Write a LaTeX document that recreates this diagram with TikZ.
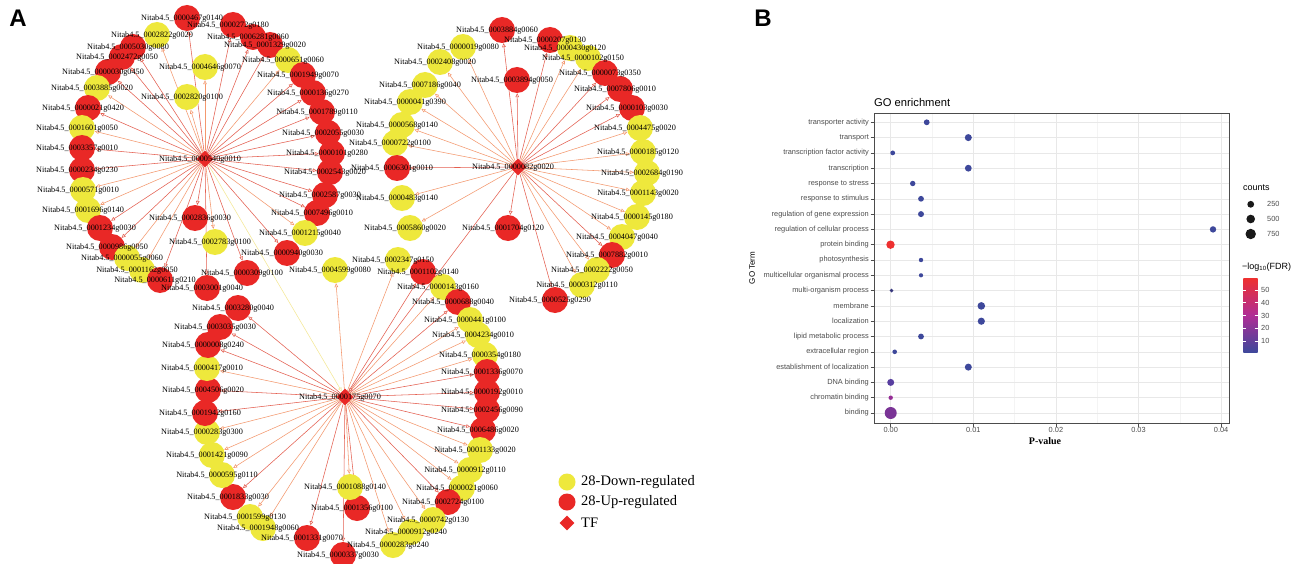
\documentclass[tikz,border=0pt]{standalone}
\usepackage{fontspec}
\setmainfont{Liberation Serif}
\setsansfont{Liberation Sans}
\usetikzlibrary{shapes.geometric,arrows.meta}
\pgfdeclarelayer{bottom}
\pgfdeclarelayer{background}
\pgfdeclarelayer{fg}
\pgfsetlayers{bottom,background,main,fg}
\definecolor{nred}{RGB}{233,40,38}
\definecolor{nyel}{RGB}{238,232,60}
\definecolor{ered}{RGB}{228,95,80}
\definecolor{eyel}{RGB}{244,152,110}
\definecolor{ehub}{RGB}{245,232,150}
\definecolor{gblue}{RGB}{62,72,155}
\definecolor{gred}{RGB}{238,48,48}
\definecolor{gnavy}{RGB}{55,55,125}
\definecolor{gdna}{RGB}{88,62,160}
\definecolor{gchrom}{RGB}{150,45,150}
\definecolor{gbind}{RGB}{122,52,150}
\definecolor{cbmid}{RGB}{175,45,150}
\definecolor{txtg}{RGB}{77,77,77}
\definecolor{gridc}{RGB}{232,232,232}
\definecolor{gridm}{RGB}{244,244,244}
\newcommand{\gn}[4]{%
  \node[#4] (g#1) at (#2,#3) {};
  \begin{pgfonlayer}{fg}\node[lbl,xshift=-5pt,yshift=-1pt] (g#1t) at (#2,#3) {Nitab4.5\_#1};\end{pgfonlayer}}
\begin{document}
\begin{tikzpicture}[x=1pt,y=-1pt,
  up/.style={circle,fill=nred,minimum size=26pt,inner sep=0pt},
  down/.style={circle,fill=nyel,minimum size=26pt,inner sep=0pt},
  tf/.style={diamond,fill=nred,minimum size=17pt,inner sep=0pt},
  lbl/.style={font=\fontsize{8.2}{9}\selectfont,inner sep=0pt},
  tip/.style={-{Triangle[open,length=4pt,width=3.6pt]}},
  eup/.style={draw=ered,line width=0.55pt,tip},
  edn/.style={draw=eyel,line width=0.55pt,tip},
  ehb/.style={draw=ehub,line width=0.55pt,tip},
  leg/.style={font=\fontsize{14.5}{16}\selectfont,inner sep=0pt,anchor=west},
  term/.style={font=\sffamily\fontsize{7.4}{8}\selectfont,text=txtg,inner sep=0pt,anchor=east},
  tick/.style={font=\sffamily\fontsize{7.4}{8}\selectfont,text=txtg,inner sep=0pt},
  plab/.style={font=\sffamily\bfseries\fontsize{24}{24}\selectfont,inner sep=0pt}
]
\useasboundingbox (0,0) rectangle (1297,564);
\begin{pgfonlayer}{bottom}\fill[white] (0,0) rectangle (1297,564);\end{pgfonlayer}

% ---------------- Panel A ----------------
\node[plab] (pA) at (18,18) {A};
\node[tf] (h1) at (205,159) {};
\node[tf] (h2) at (518,167) {};
\node[tf] (h3) at (345,397) {};
\begin{pgfonlayer}{fg}
\node[lbl,xshift=-5pt,yshift=-1pt] (h1t) at (205,159) {Nitab4.5\_0000540g0010};
\node[lbl,xshift=-5pt,yshift=-1pt] (h2t) at (518,167) {Nitab4.5\_0000082g0020};
\node[lbl,xshift=-5pt,yshift=-1pt] (h3t) at (345,397) {Nitab4.5\_0000175g0070};
\end{pgfonlayer}

% hub 1 cluster
\gn{0000467g0140}{187}{18}{up}
\gn{0000272g0180}{233}{25}{up}
\gn{0002822g0020}{157}{35}{down}
\gn{0006281g0060}{253}{37}{up}
\gn{0005030g0080}{133}{47}{up}
\gn{0001329g0020}{270}{45}{up}
\gn{0002472g0050}{122}{57}{up}
\gn{0000651g0060}{288}{60}{down}
\gn{0004646g0070}{205}{67}{down}
\gn{0000030g0450}{108}{72}{up}
\gn{0001949g0070}{303}{75}{up}
\gn{0003885g0020}{97}{88}{down}
\gn{0002820g0100}{187}{97}{down}
\gn{0000136g0270}{313}{93}{up}
\gn{0000021g0420}{88}{108}{up}
\gn{0001789g0110}{322}{112}{up}
\gn{0001601g0050}{82}{128}{down}
\gn{0002055g0030}{328}{133}{up}
\gn{0003357g0010}{82}{148}{up}
\gn{0000101g0280}{332}{153}{up}
\gn{0000234g0230}{82}{170}{up}
\gn{0002543g0020}{330}{172}{up}
\gn{0000571g0010}{83}{190}{down}
\gn{0002587g0030}{325}{195}{up}
\gn{0001696g0140}{88}{210}{down}
\gn{0007496g0010}{317}{213}{up}
\gn{0002836g0030}{195}{218}{up}
\gn{0001234g0030}{100}{228}{up}
\gn{0001215g0040}{305}{233}{down}
\gn{0002783g0100}{215}{242}{down}
\gn{0000986g0050}{112}{247}{up}
\gn{0000940g0030}{287}{253}{up}
\gn{0000055g0060}{127}{258}{down}
\gn{0001162g0050}{142}{270}{down}
\gn{0000611g0210}{160}{280}{up}
\gn{0000309g0100}{247}{273}{up}
\gn{0003001g0040}{207}{288}{up}

% hub 2 cluster
\gn{0003884g0060}{502}{30}{up}
\gn{0000207g0130}{550}{40}{up}
\gn{0000019g0080}{463}{47}{down}
\gn{0000430g0120}{570}{48}{down}
\gn{0002408g0020}{440}{62}{down}
\gn{0000102g0150}{588}{58}{down}
\gn{0003894g0050}{517}{80}{up}
\gn{0000073g0350}{605}{73}{up}
\gn{0007186g0040}{425}{85}{down}
\gn{0007806g0010}{620}{89}{up}
\gn{0000041g0390}{410}{102}{down}
\gn{0000103g0030}{632}{108}{up}
\gn{0000568g0140}{402}{125}{down}
\gn{0004475g0020}{640}{128}{down}
\gn{0000722g0100}{395}{143}{down}
\gn{0000185g0120}{643}{152}{down}
\gn{0006301g0010}{397}{168}{up}
\gn{0002684g0190}{647}{173}{down}
\gn{0000483g0140}{402}{198}{down}
\gn{0001143g0020}{643}{193}{down}
\gn{0000145g0180}{637}{217}{down}
\gn{0005860g0020}{410}{228}{down}
\gn{0001704g0120}{508}{228}{up}
\gn{0004047g0040}{622}{237}{down}
\gn{0007882g0010}{612}{255}{up}
\gn{0002222g0050}{597}{270}{down}
\gn{0000312g0110}{582}{285}{down}
\gn{0000525g0290}{555}{300}{up}

% hub 3 cluster
\gn{0004599g0080}{335}{270}{down}
\gn{0002347g0150}{398}{260}{down}
\gn{0001102g0140}{423}{272}{up}
\gn{0000143g0160}{443}{287}{down}
\gn{0000688g0040}{458}{302}{up}
\gn{0000441g0100}{470}{320}{down}
\gn{0004234g0010}{478}{335}{down}
\gn{0000354g0180}{485}{355}{down}
\gn{0001336g0070}{487}{372}{up}
\gn{0000192g0010}{487}{392}{up}
\gn{0002456g0090}{487}{410}{up}
\gn{0006486g0020}{483}{430}{up}
\gn{0001133g0020}{480}{450}{down}
\gn{0000912g0110}{470}{470}{down}
\gn{0000021g0060}{462}{488}{down}
\gn{0002724g0100}{448}{502}{up}
\gn{0000742g0130}{433}{520}{down}
\gn{0000912g0240}{411}{532}{down}
\gn{0000283g0240}{393}{545}{down}
\gn{0000337g0030}{343}{555}{up}
\gn{0001356g0100}{357}{508}{up}
\gn{0001088g0140}{350}{487}{down}
\gn{0001331g0070}{307}{538}{up}
\gn{0001948g0060}{263}{528}{down}
\gn{0001599g0130}{250}{517}{down}
\gn{0001833g0030}{233}{497}{up}
\gn{0000595g0110}{222}{475}{down}
\gn{0001421g0090}{212}{455}{down}
\gn{0000283g0300}{207}{432}{down}
\gn{0001942g0160}{205}{413}{up}
\gn{0004506g0020}{208}{390}{up}
\gn{0000417g0010}{207}{368}{down}
\gn{0000008g0240}{208}{345}{up}
\gn{0003035g0030}{220}{327}{up}
\gn{0003280g0040}{238}{308}{up}

\begin{pgfonlayer}{background}
\foreach \t in {0000467g0140,0000272g0180,0006281g0060,0005030g0080,0001329g0020,0002472g0050,0000030g0450,0001949g0070,0000136g0270,0000021g0420,0001789g0110,0002055g0030,0003357g0010,0000101g0280,0000234g0230,0002543g0020,0002587g0030,0007496g0010,0002836g0030,0001234g0030,0000986g0050,0000940g0030,0000611g0210,0000309g0100,0003001g0040}
  \draw[eup] (h1) -- (g\t);
\foreach \t in {0002822g0020,0000651g0060,0004646g0070,0003885g0020,0002820g0100,0001601g0050,0000571g0010,0001696g0140,0001215g0040,0002783g0100,0000055g0060,0001162g0050}
  \draw[edn] (h1) -- (g\t);
\foreach \t in {0003884g0060,0000207g0130,0003894g0050,0000073g0350,0007806g0010,0000103g0030,0006301g0010,0001704g0120,0007882g0010,0000525g0290}
  \draw[eup] (h2) -- (g\t);
\foreach \t in {0000019g0080,0000430g0120,0002408g0020,0000102g0150,0007186g0040,0000041g0390,0000568g0140,0004475g0020,0000722g0100,0000185g0120,0002684g0190,0000483g0140,0001143g0020,0000145g0180,0005860g0020,0004047g0040,0002222g0050,0000312g0110}
  \draw[edn] (h2) -- (g\t);
\foreach \t in {0001102g0140,0000688g0040,0001336g0070,0000192g0010,0002456g0090,0006486g0020,0002724g0100,0000337g0030,0001356g0100,0001331g0070,0001833g0030,0001942g0160,0004506g0020,0000008g0240,0003035g0030,0003280g0040}
  \draw[eup] (h3) -- (g\t);
\foreach \t in {0004599g0080,0002347g0150,0000143g0160,0000441g0100,0004234g0010,0000354g0180,0001133g0020,0000912g0110,0000021g0060,0000742g0130,0000912g0240,0000283g0240,0001088g0140,0001948g0060,0001599g0130,0000595g0110,0001421g0090,0000283g0300,0000417g0010}
  \draw[edn] (h3) -- (g\t);
\draw[ehb] (h1) -- (h3);
\draw[eup] (h2) -- (h3);
\end{pgfonlayer}

% legend A
\node[circle,fill=nyel,minimum size=17pt,inner sep=0pt] (ly) at (567,482) {};
\node[circle,fill=nred,minimum size=17pt,inner sep=0pt] (lr) at (567,502) {};
\node[diamond,fill=nred,minimum size=15pt,inner sep=0pt] (ld) at (567,523) {};
\node[leg] (lyt) at (581,482) {28-Down-regulated};
\node[leg] (lrt) at (581,502) {28-Up-regulated};
\node[leg] (ldt) at (581,523) {TF};

% ---------------- Panel B ----------------
\node[plab] (pB) at (763,18) {B};
\node[font=\sffamily\fontsize{11.2}{12}\selectfont,anchor=west,inner sep=0pt] (btitle) at (874,102) {GO enrichment};
% grid
\foreach \gx in {932,1014.6,1097.2,1179.8} \draw[gridm,line width=0.4pt] (\gx,113) -- (\gx,423);
\foreach \gx in {890.7,973.3,1055.9,1138.5,1221.1} \draw[gridc,line width=0.6pt] (\gx,113) -- (\gx,423);
\foreach \i in {0,...,19} \draw[gridc,line width=0.6pt] (874,122.3+15.3*\i) -- (1229,122.3+15.3*\i);
% border
\draw[black!70,line width=0.7pt] (874,113) rectangle (1229,423);
% y ticks and labels
\foreach \i/\lab in {0/transporter activity,1/transport,2/transcription factor activity,3/transcription,4/response to stress,5/response to stimulus,6/regulation of gene expression,7/regulation of cellular process,8/protein binding,9/photosynthesis,10/multicellular organismal process,11/multi-organism process,12/membrane,13/localization,14/lipid metabolic process,15/extracellular region,16/establishment of localization,17/DNA binding,18/chromatin binding,19/binding}{
  \draw[black!70,line width=0.6pt] (870.5,122.3+15.3*\i) -- (874,122.3+15.3*\i);
  \node[term] (t\i) at (869,122.3+15.3*\i) {\lab};
}
% x ticks
\foreach \gx/\lab in {890.7/0.00,973.3/0.01,1055.9/0.02,1138.5/0.03,1221.1/0.04}{
  \draw[black!70,line width=0.6pt] (\gx,423) -- (\gx,426.5);
  \node[tick,anchor=north] (x\lab) at (\gx,427) {\lab};
}
\node[font=\bfseries\fontsize{10}{11}\selectfont,inner sep=0pt] (xlab) at (1045,441) {P-value};
\node[font=\sffamily\fontsize{8}{9}\selectfont,rotate=90,inner sep=0pt] (ylab) at (752,268) {GO Term};
% dots
\foreach \i/\px/\r/\c in {0/926.7/2.9/gblue,1/968.3/3.5/gblue,2/892.7/2.4/gblue,3/968.3/3.4/gblue,4/912.7/2.7/gblue,5/921/2.9/gblue,6/921/3.0/gblue,7/1213/3.2/gblue,8/890.5/4.2/gred,9/921/2.2/gblue,10/921/2.1/gblue,11/891.5/1.9/gnavy,12/981.3/3.8/gblue,13/981.3/3.6/gblue,14/921/2.9/gblue,15/894.7/2.3/gblue,16/968.3/3.5/gblue,17/890.7/3.5/gdna,18/890.7/2.2/gchrom,19/890.7/6.0/gbind}
  \fill[\c] (\px,122.3+15.3*\i) circle[radius=\r];
% legend counts
\node[font=\sffamily\fontsize{9}{10}\selectfont,anchor=west,inner sep=0pt] (cnt) at (1243,188) {counts};
\fill[black!90] (1250.7,204.3) circle[radius=3.4];
\fill[black!90] (1250.7,219) circle[radius=4.3];
\fill[black!90] (1250.7,234) circle[radius=5.2];
\node[tick,anchor=west] (c250) at (1267,204.3) {250};
\node[tick,anchor=west] (c500) at (1267,219) {500};
\node[tick,anchor=west] (c750) at (1267,234) {750};
% colour bar
\node[font=\sffamily\fontsize{9}{10}\selectfont,anchor=west,inner sep=0pt] (fdr) at (1242,267) {−log\textsubscript{10}(FDR)};
\shade[top color=gred,bottom color=gblue,middle color=cbmid] (1243.3,278.3) rectangle (1257.7,352.3);
\foreach \yy/\lab in {290/50,302.7/40,315.7/30,328.3/20,341.3/10}{
  \draw[white,line width=0.5pt] (1243.3,\yy) -- (1246.3,\yy);
  \draw[white,line width=0.5pt] (1254.7,\yy) -- (1257.7,\yy);
  \node[tick,anchor=west] (f\lab) at (1261,\yy) {\lab};
}
\end{tikzpicture}
\end{document}
